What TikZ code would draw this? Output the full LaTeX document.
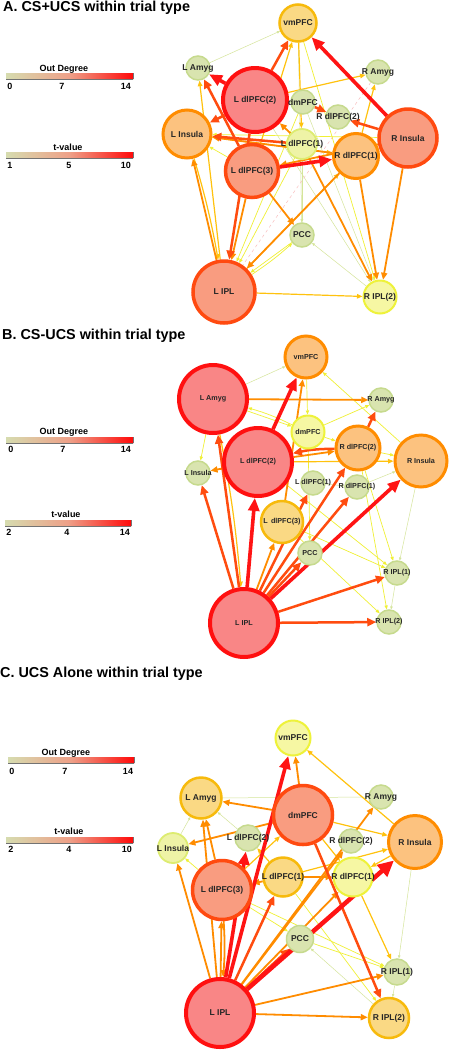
\documentclass[tikz,border=0pt]{standalone}
\usepackage{fontspec}
\setmainfont{Liberation Sans}
\usetikzlibrary{arrows.meta}
\pgfdeclarelayer{paper}
\pgfdeclarelayer{bg}
\pgfsetlayers{paper,bg,main}
% edge colours
\definecolor{cG}{HTML}{D5E59A}
\definecolor{cY}{HTML}{F0F035}
\definecolor{cYO}{HTML}{FFC20E}
\definecolor{cO}{HTML}{FF8C00}
\definecolor{cOR}{HTML}{FF4C0F}
\definecolor{cR}{HTML}{FF1414}
\definecolor{cPk}{HTML}{F8B4B4}
% node colours
\definecolor{fPink}{HTML}{F98686}
\definecolor{bRed}{HTML}{FF1010}
\definecolor{fSal}{HTML}{F99C80}
\definecolor{bOR}{HTML}{FF4A10}
\definecolor{fLO}{HTML}{FCC27F}
\definecolor{bO}{HTML}{FF8C00}
\definecolor{fYO}{HTML}{FAD984}
\definecolor{bYO}{HTML}{F7BA0C}
\definecolor{fY}{HTML}{F6F7A3}
\definecolor{bY}{HTML}{EEF23A}
\definecolor{fYG}{HTML}{EEF3A6}
\definecolor{bYG}{HTML}{DDEC70}
\definecolor{fG}{HTML}{D9E4AF}
\definecolor{bG}{HTML}{C6DA8D}
% legend colours
\definecolor{lgL}{HTML}{D6DCAF}
\definecolor{lgM}{HTML}{EEA088}
\definecolor{lgR}{HTML}{FF0A0A}
\tikzset{
  nd/.style={circle, inner sep=0pt},
  n14/.style={nd, fill=fPink, draw=bRed, line width=4pt},
  n11/.style={nd, fill=fSal, draw=bOR, line width=3.5pt},
  n8/.style={nd, fill=fLO, draw=bO, line width=3pt},
  n5/.style={nd, fill=fYO, draw=bYO, line width=2.5pt},
  n3/.style={nd, fill=fY, draw=bY, line width=2pt},
  n2/.style={nd, fill=fYG, draw=bYG, line width=1.8pt},
  n0/.style={nd, fill=fG, draw=bG, line width=1.5pt},
  lbl/.style={font=\bfseries\fontsize{8.5}{9}\selectfont, text=black!85, inner sep=0pt},
  lblB/.style={font=\bfseries\fontsize{7.2}{8}\selectfont, text=black!85, inner sep=0pt},
  ttl/.style={font=\bfseries\fontsize{14.4}{16}\selectfont, anchor=base west, inner sep=0pt},
  lgt/.style={font=\bfseries\fontsize{9}{10}\selectfont, inner sep=0pt, anchor=base},
  e1/.style={draw=cG, line width=0.5pt, -{Triangle[length=3pt,width=2.5pt]}},
  e2/.style={draw=cY, line width=0.7pt, -{Triangle[length=4pt,width=3.2pt]}},
  e3/.style={draw=cYO, line width=1.2pt, -{Triangle[length=5.5pt,width=4.5pt]}},
  e4/.style={draw=cO, line width=1.8pt, -{Triangle[length=7pt,width=6pt]}},
  e5/.style={draw=cOR, line width=2.5pt, -{Triangle[length=9pt,width=8pt]}},
  e6/.style={draw=cR, line width=3.6pt, -{Triangle[length=13pt,width=11pt]}},
  ep/.style={draw=cPk, line width=0.4pt, dashed},
}
\newcommand{\brn}[7]{\node[#1, minimum size=#5pt] (#2) at (#3,#4) {};
  \node[#7] at (#2.center) {#6};}
\newcommand{\edg}[3]{\draw[#1] (#2) -- (#3);}
\newcommand{\lgbar}[3]{%
  \shade[left color=lgL, right color=lgR, middle color=lgM] (#1,#3) rectangle (#2,#3+6);
  \draw[black!55, line width=0.5pt] (#1,#3+6.3) -- (#2,#3+6.3);
  \draw[black!55, line width=0.5pt] (#2,#3) -- (#2,#3+6.3);}
\begin{document}
\begin{tikzpicture}[x=1pt,y=-1pt]
\useasboundingbox (0,0) rectangle (449,1050);
\begin{pgfonlayer}{paper}
\fill[white] (0,0) rectangle (449,1050);
\end{pgfonlayer}

% ================= Titles =================
\node[ttl] (tA) at (3,11.5) {A. CS+UCS within trial type};
\node[ttl] (tB) at (2,339) {B. CS-UCS within trial type};
\node[ttl] (tC) at (0,677) {C. UCS Alone within trial type};

% ================= Legends =================
% A
\node[lgt] (oA) at (64,71) {Out Degree};
\lgbar{6}{133}{73}
\node[lgt] (oA0) at (10,89) {0};
\node[lgt] (oA7) at (62,89) {7};
\node[lgt] (oA14) at (126,89) {14};
\node[lgt] (tvA) at (68,150) {t-value};
\lgbar{6}{133}{152}
\node[lgt] (tA1) at (10,168) {1};
\node[lgt] (tA5) at (69,168) {5};
\node[lgt] (tA10) at (126,168) {10};
% B
\node[lgt] (oB) at (64,434) {Out Degree};
\lgbar{6}{133}{437}
\node[lgt] (oB0) at (11,452) {0};
\node[lgt] (oB7) at (63,452) {7};
\node[lgt] (oB14) at (126,452) {14};
\node[lgt] (tvB) at (66,517) {t-value};
\lgbar{5}{131}{520}
\node[lgt] (tB2) at (9,535) {2};
\node[lgt] (tB4) at (67,535) {4};
\node[lgt] (tB14) at (125,535) {14};
% C
\node[lgt] (oC) at (66,755) {Out Degree};
\lgbar{8}{134}{757}
\node[lgt] (oC0) at (12,774) {0};
\node[lgt] (oC7) at (65,774) {7};
\node[lgt] (oC14) at (128,774) {14};
\node[lgt] (tvC) at (69,834) {t-value};
\lgbar{6}{133}{837}
\node[lgt] (tC2) at (11,852) {2};
\node[lgt] (tC4) at (69,852) {4};
\node[lgt] (tC10) at (127,852) {10};

% ================= Panel A nodes =================
\brn{n5}{vmA}{298}{23}{37}{vmPFC}{lbl}
\brn{n0}{LAA}{198}{68}{24}{L Amyg}{lbl}
\brn{n14}{L2A}{255}{100}{64}{L dlPFC(2)}{lbl}
\brn{n0}{dmA}{303}{102}{24}{dmPFC}{lbl}
\brn{n0}{RAA}{378}{72}{24}{R Amyg}{lbl}
\brn{n0}{R2A}{338}{117}{24}{R dlPFC(2)}{lbl}
\brn{n8}{LIA}{187}{134}{48}{L Insula}{lbl}
\brn{n2}{L1A}{302}{144}{30}{L dlPFC(1)}{lbl}
\brn{n8}{R1A}{356}{156}{45}{R dlPFC(1)}{lbl}
\brn{n11}{RIA}{408}{138}{58}{R Insula}{lbl}
\brn{n11}{L3A}{252}{171}{53}{L dlPFC(3)}{lbl}
\brn{n0}{PCCA}{302}{235}{24}{PCC}{lbl}
\brn{n11}{LIPLA}{224}{292}{62}{L IPL}{lbl}
\brn{n3}{RIP2A}{380}{297}{33}{R IPL(2)}{lbl}

% ================= Panel B nodes =================
\brn{n8}{vmB}{306}{357}{42}{vmPFC}{lblB}
\brn{n14}{LAB}{213}{399}{68}{L Amyg}{lblB}
\brn{n0}{RAB}{381}{400}{24}{R Amyg}{lblB}
\brn{n3}{dmB}{308}{432}{33}{dmPFC}{lblB}
\brn{n8}{R2B}{358}{448}{44}{R dlPFC(2)}{lblB}
\brn{n8}{RIB}{421}{461}{52}{R Insula}{lblB}
\brn{n0}{LIB}{198}{473}{24}{L Insula}{lblB}
\brn{n14}{L2B}{258}{462}{68}{L dlPFC(2)}{lblB}
\brn{n0}{L1B}{313}{483}{24}{L dlPFC(1)}{lblB}
\brn{n0}{R1B}{357}{487}{24}{R dlPFC(1)}{lblB}
\brn{n5}{L3B}{282}{522}{42}{L\, dlPFC(3)}{lblB}
\brn{n0}{PCCB}{310}{553}{24}{PCC}{lblB}
\brn{n0}{RIP1B}{397}{573}{24}{R IPL(1)}{lblB}
\brn{n0}{RIP2B}{389}{622}{24}{R IPL(2)}{lblB}
\brn{n14}{LIPLB}{244}{623}{68}{L IPL}{lblB}

% ================= Panel C nodes =================
\brn{n3}{vmC}{293}{738}{35}{vmPFC}{lbl}
\brn{n5}{LAC}{201}{798}{41}{L Amyg}{lbl}
\brn{n11}{dmC}{303}{815}{59}{dmPFC}{lbl}
\brn{n0}{RAC}{381}{797}{24}{R Amyg}{lbl}
\brn{n0}{L2C}{248}{838}{26}{L dlPFC(2)}{lbl}
\brn{n0}{R2C}{351}{841}{24}{R dlPFC(2)}{lbl}
\brn{n8}{RIC}{415}{842}{53}{R Insula}{lbl}
\brn{n2}{LIC}{173}{848}{30}{L Insula}{lbl}
\brn{n5}{L1C}{283}{877}{39}{L dlPFC(1)}{lbl}
\brn{n3}{R1C}{353}{877}{39}{R dlPFC(1)}{lbl}
\brn{n11}{L3C}{222}{890}{59}{L dlPFC(3)}{lbl}
\brn{n0}{PCCC}{300}{939}{27}{PCC}{lbl}
\brn{n0}{RIP1C}{397}{972}{26}{R IPL(1)}{lbl}
\brn{n5}{RIP2C}{389}{1018}{40}{R IPL(2)}{lbl}
\brn{n14}{LIPLC}{220}{1013}{68}{L IPL}{lbl}

\begin{pgfonlayer}{bg}
% ---------- Panel A edges ----------
\edg{e1}{LAA}{vmA}
\edg{e1}{vmA}{PCCA}
\edg{e1}{RIP2A}{PCCA}
\edg{e1}{L2A}{RIP2A}
\edg{e1}{dmA}{RIP2A}
\edg{e1}{L1A}{PCCA}
\edg{ep}{RAA}{LIPLA}
\edg{e2}{vmA}{RIP2A}
\edg{e2}{RIA}{LIA}
\edg{e2}{L3A}{LIA}
\edg{e2}{PCCA}{LIPLA}
\draw[e2] (LIPLA) to[bend right=4] (PCCA);
\edg{e2}{L1A}{LIPLA}
\edg{e2}{dmA}{LIPLA}
\edg{e2}{LIA}{L1A}
\edg{e3}{L3A}{vmA}
\edg{e3}{vmA}{L1A}
\edg{e3}{LIPLA}{LAA}
\draw[e3] (LIA) to[bend left=3] (LIPLA);
\edg{e3}{L2A}{RAA}
\edg{e3}{R1A}{RAA}
\edg{e3}{LIPLA}{R1A}
\edg{e3}{LIPLA}{RIP2A}
\edg{e3}{LIA}{R1A}
\edg{e4}{LIPLA}{LIA}
\edg{e4}{R1A}{LIA}
\edg{e4}{L3A}{LIPLA}
\edg{e4}{L3A}{PCCA}
\edg{e4}{R1A}{LIPLA}
\edg{e4}{L1A}{RIP2A}
\edg{e4}{RIA}{RIP2A}
\edg{e4}{R1A}{RIP2A}
\edg{e4}{RIA}{L3A}
\edg{e4}{L1A}{L2A}
\edg{e5}{L2A}{vmA}
\edg{e5}{L3A}{LAA}
\edg{e5}{RIA}{R2A}
\edg{e5}{dmA}{R2A}
\edg{e5}{L1A}{LIA}
\edg{e5}{L2A}{LIA}
\edg{e5}{L2A}{LIPLA}
\edg{e6}{RIA}{vmA}
\edg{e6}{L2A}{LAA}
\edg{e6}{L3A}{R1A}

% ---------- Panel B edges ----------
\edg{e1}{LAB}{vmB}
\edg{e1}{RIB}{RIP1B}
\edg{e1}{RIP1B}{RIP2B}
\edg{e1}{L1B}{R1B}
\edg{e1}{R1B}{RIB}
\edg{e2}{LAB}{dmB}
\draw[e2] (dmB) to[bend right=5] (LAB);
\edg{e2}{LAB}{LIB}
\edg{e2}{vmB}{dmB}
\edg{e2}{dmB}{RAB}
\edg{e2}{dmB}{R2B}
\edg{e2}{RIB}{vmB}
\edg{e2}{L3B}{RIP1B}
\edg{e2}{L3B}{RIP2B}
\edg{e2}{L2B}{RIP1B}
\edg{e2}{R2B}{RIP2B}
\edg{e2}{R2B}{RIP1B}
\edg{e2}{dmB}{PCCB}
\edg{e2}{R2B}{RIB}
\draw[e3] (LAB) to[bend left=3] (LIPLB);
\edg{e3}{L2B}{RIB}
\edg{e4}{LIPLB}{L3B}
\edg{e4}{L3B}{vmB}
\edg{e4}{LAB}{RAB}
\edg{e4}{L2B}{LIB}
\edg{e4}{L2B}{R2B}
\draw[e5] (R2B) to[bend right=6] (L2B);
\edg{e5}{R2B}{RAB}
\edg{e5}{LIPLB}{LIB}
\edg{e5}{LIPLB}{LAB}
\edg{e5}{LIPLB}{L1B}
\edg{e5}{LIPLB}{R1B}
\edg{e5}{LIPLB}{R2B}
\edg{e5}{LIPLB}{PCCB}
\edg{e5}{LIPLB}{RIP1B}
\edg{e5}{LIPLB}{RIP2B}
\edg{e6}{LIPLB}{L2B}
\edg{e6}{LIPLB}{RIB}
\edg{e6}{L2B}{vmB}

% ---------- Panel C edges ----------
\edg{e1}{RIC}{RIP1C}
\edg{e1}{RIP2C}{PCCC}
\edg{e1}{L2C}{LAC}
\edg{e1}{LIC}{LAC}
\edg{e1}{RIP1C}{RIP2C}
\edg{e1}{LAC}{RAC}
\edg{e2}{L3C}{PCCC}
\edg{e2}{L3C}{LIC}
\edg{e2}{PCCC}{RIP1C}
\edg{e2}{L1C}{RIP2C}
\edg{e2}{L3C}{RIP1C}
\edg{e3}{RIC}{vmC}
\edg{e3}{dmC}{R1C}
\edg{e3}{dmC}{RIC}
\edg{e3}{L1C}{RIC}
\edg{e3}{R1C}{RIP1C}
\edg{e3}{L3C}{dmC}
\edg{e3}{L1C}{L2C}
\edg{e3}{RIC}{R1C}
\edg{e4}{dmC}{vmC}
\edg{e4}{dmC}{LAC}
\edg{e4}{dmC}{LIC}
\edg{e4}{LIPLC}{RAC}
\edg{e4}{LIPLC}{LAC}
\edg{e4}{L3C}{LAC}
\edg{e4}{LIPLC}{LIC}
\edg{e4}{LIPLC}{L3C}
\draw[e4] (L3C) to[bend left=4] (LIPLC);
\edg{e4}{LIPLC}{R2C}
\edg{e4}{LIPLC}{R1C}
\edg{e4}{LIPLC}{RIP1C}
\edg{e4}{LIPLC}{RIP2C}
\edg{e4}{L1C}{R1C}
\edg{e4}{L1C}{L3C}
\edg{e5}{dmC}{RIP2C}
\edg{e5}{LIPLC}{L1C}
\edg{e5}{LIPLC}{PCCC}
\edg{e6}{LIPLC}{vmC}
\edg{e6}{LIPLC}{L2C}
\draw[e6, line width=4.5pt, -{Triangle[length=16pt,width=15pt]}] (LIPLC) -- (RIC);
\end{pgfonlayer}
\end{tikzpicture}
\end{document}
